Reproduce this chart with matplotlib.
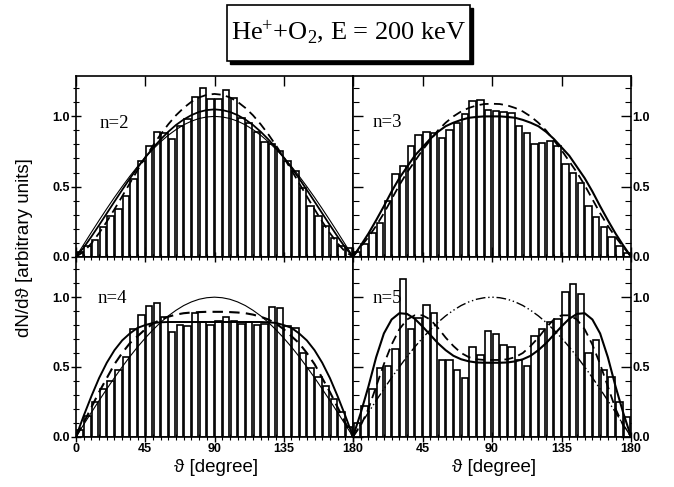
import numpy as np
import matplotlib
matplotlib.use("Agg")
import matplotlib.pyplot as plt
from matplotlib.patches import Rectangle
from matplotlib.ticker import MultipleLocator, FixedLocator, FixedFormatter

plt.rcParams['mathtext.fontset'] = 'custom'
plt.rcParams['mathtext.rm'] = 'Liberation Serif'
plt.rcParams['mathtext.it'] = 'Liberation Serif:italic'

# ---------------- data ----------------
bin_left = np.arange(0, 180, 5)          # 5-degree bins
angles = np.arange(0, 181, 5)            # curve sample angles

hist_n2 = [0.03, 0.074, 0.12, 0.21, 0.29, 0.34, 0.436, 0.555, 0.68, 0.79, 0.89, 0.88,
           0.84, 0.93, 0.98, 1.14, 1.20, 1.126, 1.126, 1.19, 1.13, 0.99, 0.95, 0.89,
           0.82, 0.80, 0.75, 0.68, 0.61, 0.49, 0.36, 0.29, 0.22, 0.13, 0.074, 0.06]
hist_n3 = [0.036, 0.09, 0.167, 0.243, 0.40, 0.59, 0.648, 0.786, 0.864, 0.888, 0.881, 0.845,
           0.90, 0.952, 1.017, 1.107, 1.114, 1.043, 1.036, 1.029, 1.024, 0.929, 0.881, 0.802,
           0.81, 0.826, 0.786, 0.662, 0.595, 0.524, 0.362, 0.286, 0.214, 0.143, 0.079, 0.024]
hist_n4 = [0.05, 0.15, 0.25, 0.345, 0.40, 0.476, 0.57, 0.77, 0.87, 0.94, 0.957, 0.86,
           0.75, 0.80, 0.79, 0.89, 0.82, 0.80, 0.83, 0.857, 0.83, 0.81, 0.82, 0.80,
           0.81, 0.93, 0.92, 0.79, 0.78, 0.60, 0.49, 0.43, 0.36, 0.27, 0.18, 0.07]
hist_n5 = [0.10, 0.22, 0.345, 0.495, 0.51, 0.625, 1.13, 0.77, 0.853, 0.945, 0.886, 0.553,
           0.553, 0.476, 0.42, 0.643, 0.583, 0.755, 0.738, 0.66, 0.643, 0.55, 0.51, 0.72,
           0.77, 0.82, 0.845, 1.04, 1.095, 1.02, 0.60, 0.695, 0.476, 0.43, 0.25, 0.14]

sin_curve = [0, .087, .174, .259, .342, .423, .5, .574, .643, .707, .766, .819, .866,
             .906, .940, .966, .985, .996, 1.0, .996, .985, .966, .940, .906, .866, .819,
             .766, .707, .643, .574, .5, .423, .342, .259, .174, .087, 0]

n2_solid = [0, .065, .143, .225, .309, .393, .476, .557, .634, .708, .775, .836, .891,
            .939, .978, 1.009, 1.032, 1.045, 1.05, 1.045, 1.032, 1.009, .978, .939, .891,
            .836, .775, .708, .634, .557, .476, .393, .309, .225, .143, .065, 0]
n2_dash = [0, .035, .095, .168, .250, .338, .430, .524, .617, .707, .792, .872, .944,
           1.008, 1.061, 1.104, 1.135, 1.154, 1.16, 1.154, 1.135, 1.104, 1.061, 1.008, .944,
           .872, .792, .707, .617, .524, .430, .338, .250, .168, .095, .035, 0]

n3_solid = [0, .08, .165, .26, .36, .465, .56, .64, .72, .78, .84, .89, .93, .955, .975,
            .99, .996, 1.0, 1.0, 1.0, .996, .99, .975, .955, .93, .89, .84, .78, .72, .64,
            .56, .465, .36, .26, .165, .08, 0]
n3_dash = [0, .07, .14, .22, .31, .41, .51, .60, .68, .76, .83, .90, .955, 1.0, 1.035,
           1.06, 1.078, 1.088, 1.09, 1.088, 1.078, 1.06, 1.035, 1.0, .955, .90, .83, .76,
           .68, .60, .51, .41, .31, .22, .14, .07, 0]

n4_solid = [0, .15, .29, .42, .53, .62, .69, .74, .78, .80, .815, .82, .822, .822, .822,
            .822, .822, .822, .822, .822, .822, .822, .822, .822, .822, .82, .815, .80,
            .78, .74, .69, .62, .53, .42, .29, .15, 0]
n4_dash = [0, .10, .21, .32, .42, .52, .60, .67, .72, .77, .81, .84, .86, .875, .885,
           .89, .893, .895, .895, .895, .893, .89, .885, .875, .86, .84, .81, .77, .72,
           .67, .60, .52, .42, .32, .21, .10, 0]

n5_solid = [0, .17, .36, .57, .74, .84, .885, .88, .845, .79, .73, .67, .62, .58, .555,
            .54, .532, .53, .53, .53, .532, .54, .555, .58, .62, .67, .73, .79, .845, .88,
            .885, .84, .74, .57, .36, .17, 0]
n5_dash = [0, .08, .20, .36, .52, .66, .77, .84, .87, .87, .84, .78, .71, .65, .60, .57,
           .555, .55, .55, .55, .555, .57, .60, .65, .71, .78, .84, .87, .87, .84, .77,
           .66, .52, .36, .20, .08, 0]

panel_labels = ["n=2", "n=3", "n=4", "n=5"]
xtick_vals = [0, 45, 90, 135, 180]
ytick_vals = [0.0, 0.5, 1.0]

# ---------------- figure ----------------
W, H = 674, 487
fig = plt.figure(figsize=(W / 100, H / 100), dpi=100)

def fx(px):
    return px / W

def fy(py):
    return 1 - py / H

xl, xm, xr = 76, 353, 631
yt, ym, yb = 75.7, 256.7, 436.7

ax_tl = fig.add_axes([fx(xl), fy(ym), fx(xm) - fx(xl), fy(yt) - fy(ym)])
ax_tr = fig.add_axes([fx(xm), fy(ym), fx(xr) - fx(xm), fy(yt) - fy(ym)])
ax_bl = fig.add_axes([fx(xl), fy(yb), fx(xm) - fx(xl), fy(ym) - fy(yb)])
ax_br = fig.add_axes([fx(xm), fy(yb), fx(xr) - fx(xm), fy(ym) - fy(yb)])

TICK_FS = 9
tick_font = dict(family=['Liberation Sans', 'DejaVu Sans'], weight='bold', size=TICK_FS)

def style(ax, top, left):
    ax.set_xlim(0, 180)
    ax.set_ylim(0, 1.29)
    for s in ax.spines.values():
        s.set_linewidth(1.2)
    ax.xaxis.set_major_locator(FixedLocator(xtick_vals))
    ax.xaxis.set_minor_locator(MultipleLocator(5))
    ax.yaxis.set_major_locator(FixedLocator(ytick_vals))
    ax.yaxis.set_minor_locator(MultipleLocator(0.1))
    ax.yaxis.set_major_formatter(FixedFormatter([f"{v:.1f}" for v in ytick_vals]))
    if left:
        ax.tick_params(axis='y', which='both', left=True, right=False, labelleft=True,
                       labelright=False, direction='inout')
    else:
        ax.tick_params(axis='y', which='both', left=True, right=True, labelleft=False,
                       labelright=True, direction='inout')
        ax.tick_params(axis='y', which='both', left=True, direction='in')
    ax.tick_params(axis='y', which='major', length=7, width=1.0, pad=1)
    ax.tick_params(axis='y', which='minor', length=4, width=0.8)
    if top:
        ax.tick_params(axis='x', which='both', bottom=True, top=False, labelbottom=False,
                       direction='inout')
        ax.tick_params(axis='x', which='major', top=True, direction='in')
    else:
        ax.tick_params(axis='x', which='both', bottom=True, top=True, labelbottom=True,
                       direction='inout')
    ax.tick_params(axis='x', which='major', length=7, width=1.0, pad=1)
    ax.tick_params(axis='x', which='minor', length=5, width=0.8)
    for lab in ax.get_xticklabels() + ax.get_yticklabels():
        lab.set_fontproperties(tick_font)

panels = [
    (ax_tl, hist_n2, [(sin_curve, '-', 0.8, None), (n2_solid, '-', 1.3, None),
                      (n2_dash, '--', 1.3, (5, 3))], True, True),
    (ax_tr, hist_n3, [(n3_solid, '-', 1.5, None), (n3_dash, '--', 1.3, (5, 3))], True, False),
    (ax_bl, hist_n4, [(sin_curve, '-', 0.8, None), (n4_solid, '-', 1.4, None),
                      (n4_dash, '--', 1.5, (5, 3))], False, True),
    (ax_br, hist_n5, [(sin_curve, '-.', 1.0, (7, 2, 1, 2, 1, 2)), (n5_solid, '-', 1.5, None),
                      (n5_dash, '--', 1.3, (5, 3))], False, False),
]

label_pos = [(15.5, 0.95), (12.5, 0.955), (14, 0.99), (12.5, 0.99)]

for (ax, hist, curves, top, left), lab, (lx, ly) in zip(panels, panel_labels, label_pos):
    ax.bar(bin_left + 0.4, hist, width=4.2, align='edge', color='white',
           edgecolor='black', linewidth=1.2, zorder=2)
    for vals, ls, lw, dash in curves:
        line, = ax.plot(angles, vals, color='black', linestyle=ls, linewidth=lw, zorder=3)
        if dash is not None:
            line.set_dashes(dash)
    ax.text(lx, ly, lab, family=['Liberation Serif', 'DejaVu Serif'], fontsize=13.5,
            ha='left', va='center', zorder=4)
    style(ax, top, left)

ax_br.xaxis.set_major_formatter(FixedFormatter(["", "45", "90", "135", "180"]))
ax_bl.xaxis.set_major_formatter(FixedFormatter(["0", "45", "90", "135", "180"]))
for ax in (ax_bl, ax_br):
    for lab in ax.get_xticklabels():
        lab.set_fontproperties(tick_font)

lab_font = dict(family=['Liberation Sans', 'DejaVu Sans'], fontsize=13.5)
fig.text(fx(216), fy(468), "ϑ [degree]", ha='center', va='center', **lab_font)
fig.text(fx(494), fy(468), "ϑ [degree]", ha='center', va='center', **lab_font)
fig.text(fx(25), fy(248), "dN/dϑ [arbitrary units]", rotation=90, ha='center',
         va='center', **lab_font)

# title box with drop shadow
bx0, by0, bx1, by1 = 227, 5, 470, 61
fig.patches.append(Rectangle((fx(bx0 + 3), fy(by1 + 3)), fx(bx1) - fx(bx0),
                             fy(by0) - fy(by1), transform=fig.transFigure,
                             facecolor='black', edgecolor='black', zorder=0))
fig.patches.append(Rectangle((fx(bx0), fy(by1)), fx(bx1) - fx(bx0), fy(by0) - fy(by1),
                             transform=fig.transFigure, facecolor='white',
                             edgecolor='black', linewidth=1.2, zorder=1))
fig.text(fx(349), fy(32), r'He$^{+}$+O$_{2}$, E = 200 keV',
         family=['Liberation Serif', 'DejaVu Serif'], fontsize=19, ha='center',
         va='center', zorder=5)

fig.savefig("out.png", dpi=100)
